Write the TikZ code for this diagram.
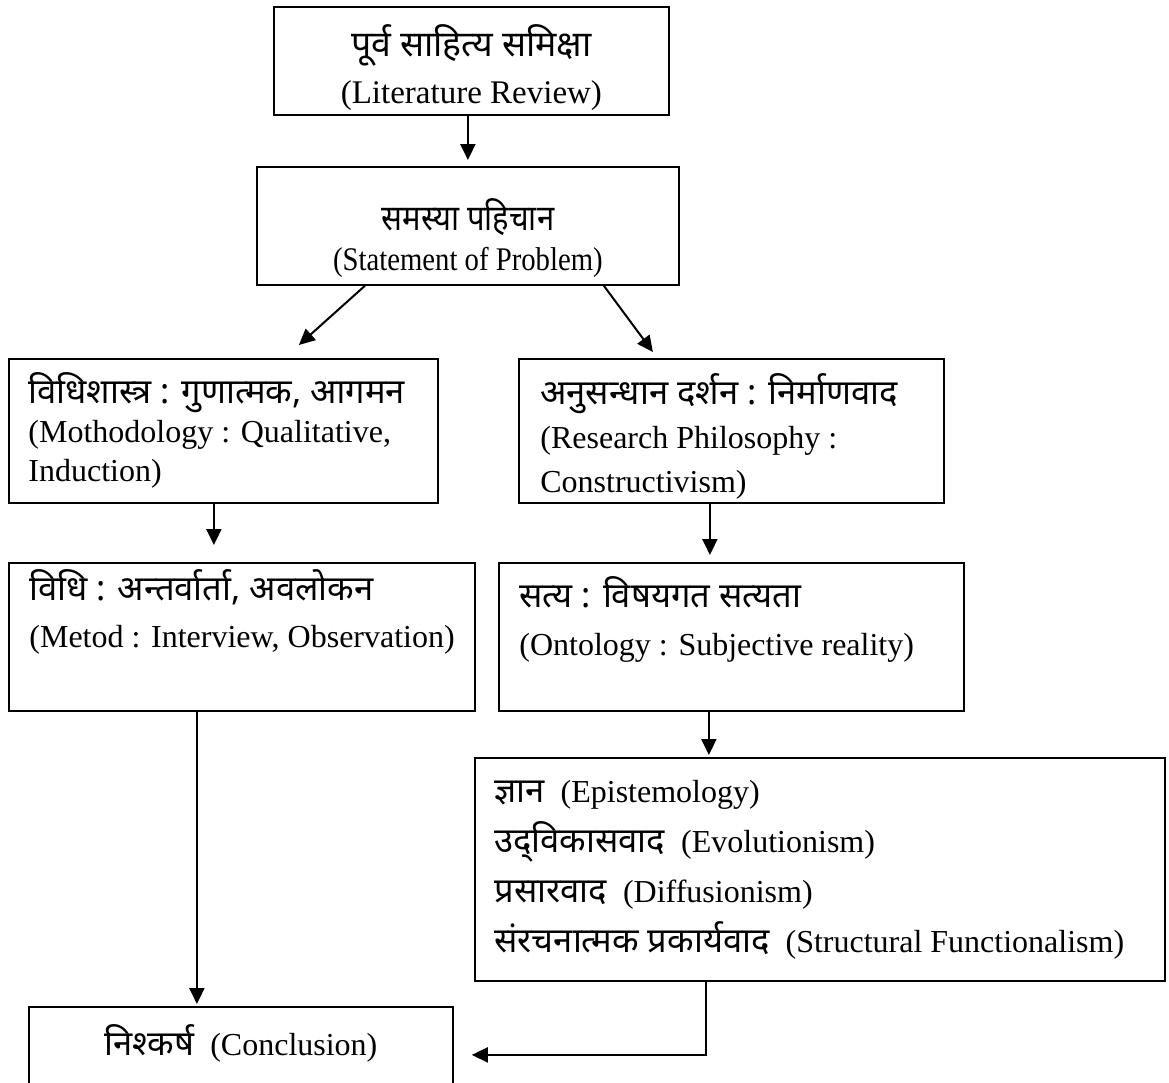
\documentclass[tikz,border=0pt]{standalone}
\usepackage{fontspec}
\usepackage{graphicx}
\setmainfont{Liberation Serif}
\newfontfamily\dev[Script=Devanagari, Scale=1.08]{Noto Sans}
\usepackage{tikz}
\usetikzlibrary{
  positioning,
  calc,
  arrows.meta
}

\begin{document}
\begin{tikzpicture}[x=0.5pt, y=-0.5pt,
    frame/.style={draw, line width=0.9pt, inner sep=0pt, anchor=north west},
    txt/.style={inner sep=0pt, align=left, font=\fontsize{16pt}{#1}\selectfont},
    txt/.default=20pt,
    arr/.style={-{Triangle[length=8pt,width=7.5pt]}, line width=1pt}]

      \useasboundingbox (0,0) rectangle (1169,1083);
      \clip (0,0) rectangle (1169,1083);

      % Top boxes
      \node[frame, minimum width=197.5pt, minimum height=54pt] (lit) at (273,6) {};
      \node[txt, align=center, font=\fontsize{16.5pt}{23.5pt}\selectfont, yshift=-3.25pt] (littxt) at (lit)
            {{\dev पूर्व साहित्य समिक्षा}\\(Literature Review)};
      \node[frame, minimum width=211pt, minimum height=59pt] (prob) at (256,166) {};
      \node[txt, align=center, font=\fontsize{16.5pt}{20pt}\selectfont, yshift=-6pt] (probtxt) at (prob)
            {\scalebox{0.87}[1]{\dev समस्या पहिचान}\\\scalebox{0.87}[1]{(Statement of Problem)}};

      % Methodology / philosophy
      \node[frame, minimum width=214.5pt, minimum height=72pt] (methy) at (8,358) {};
      \node[txt=19.5pt, right=10pt of methy.west] (methytxt)
            {{\dev विधिशास्त्र : गुणात्मक, आगमन}\\(Mothodology : Qualitative,\\Induction)};
      \node[frame, minimum width=212.5pt, minimum height=72pt] (phil) at (518,358) {};
      \node[txt=22pt, right=11pt of phil.west, yshift=-3pt] (philtxt)
            {{\dev अनुसन्धान दर्शन : निर्माणवाद}\\(Research Philosophy :\\Constructivism)};

      % Method / ontology
      \node[frame, minimum width=233pt, minimum height=74pt] (meth) at (8,562) {};
      \node[txt=23.5pt, right=10.5pt of meth.west, yshift=12.25pt] (methtxt)
            {{\dev विधि : अन्तर्वार्ता, अवलोकन}\\(Metod : Interview, Observation)};
      \node[frame, minimum width=232.5pt, minimum height=74pt] (onto) at (498,562) {};
      \node[txt=24pt, right=10.5pt of onto.west, yshift=8.5pt] (ontotxt)
            {{\dev सत्य : विषयगत सत्यता}\\(Ontology : Subjective reality)};

      % Epistemology
      \node[frame, minimum width=345pt, minimum height=111.5pt] (epi) at (474,757) {};
      \node[txt=25pt, right=10pt of epi.west] (epitxt)
            {{\dev ज्ञान}\enspace(Epistemology)\\
             {\dev उद्^^^^200cविकासवाद}\enspace(Evolutionism)\\
             {\dev प्रसारवाद}\enspace(Diffusionism)\\
             {\dev संरचनात्मक प्रकार्यवाद}\enspace(Structural Functionalism)};

      % Conclusion
      \node[frame, minimum width=212pt, minimum height=41pt] (conc) at (28,1006) {};
      \node[txt, yshift=2pt] (conctxt) at (conc) {{\dev निश्कर्ष}\enspace(Conclusion)};
      \coordinate (concin) at ([shift={(9pt,-3.5pt)}]conc.east);

      % Arrows
      \draw[arr, shorten >=3pt] (lit.south -| prob.north) -- (prob.north);
      \draw[arr] ([xshift=-51.5pt]prob.south) -- ([shift={(37.75pt,6.5pt)}]methy.north);
      \draw[arr] ([xshift=68pt]prob.south) -- ([shift={(-39.25pt,3pt)}]phil.north);
      \draw[arr, shorten >=8.5pt] ([xshift=-4.75pt]methy.south) -- ([xshift=-4.75pt]methy.south |- meth.north);
      \draw[arr, shorten >=3.5pt] ([xshift=-10.75pt]phil.south) -- ([xshift=-10.75pt]phil.south |- onto.north);
      \draw[arr, shorten >=1pt] ([xshift=-11.25pt]onto.south) -- ([xshift=-11.25pt]onto.south |- epi.north);
      \draw[arr, shorten >=1pt] ([xshift=-22.5pt]meth.south) -- ([xshift=-22.5pt]meth.south |- conc.north);
      \draw[arr] ([xshift=-57pt]epi.south) |- (concin);
    \end{tikzpicture}
\end{document}
